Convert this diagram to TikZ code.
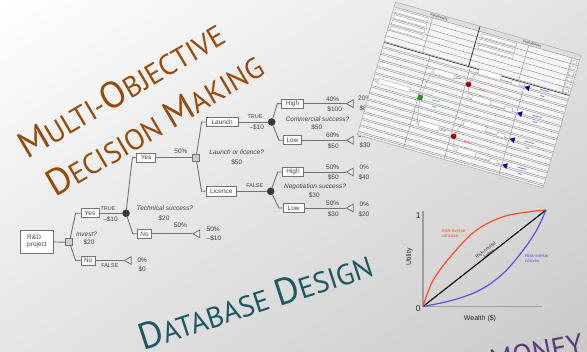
\documentclass[tikz,border=0pt]{standalone}
\usepackage{fontspec}
\setmainfont{Liberation Sans}
\newfontfamily\titlefont{PT Sans}
\usetikzlibrary{shapes.geometric,shadings}
\definecolor{treegray}{RGB}{115,115,115}
\definecolor{treetext}{RGB}{70,70,70}
\definecolor{titlebrown}{RGB}{153,74,8}
\definecolor{titleteal}{RGB}{28,88,98}
\definecolor{titlepurple}{RGB}{92,58,122}
\definecolor{riskred}{RGB}{255,75,40}
\definecolor{riskblue}{RGB}{85,85,225}
\definecolor{tabgreen}{RGB}{30,150,30}
\definecolor{tabred}{RGB}{150,10,10}
\definecolor{tabblue}{RGB}{10,10,140}
\newcommand\tbigcap[1]{{\fontsize{37}{37}\selectfont #1}}
\newcommand\tsmlcap[1]{{\fontsize{29}{29}\selectfont #1}}
\tikzset{
  tline/.style={draw=treegray, line width=0.9pt},
  tbox/.style={draw=treegray, line width=0.8pt, fill=white, text=treetext,
    font=\fontsize{6.5}{7}\selectfont, inner sep=0pt, minimum height=9pt},
  dnode/.style={rectangle, draw=treegray, fill=gray!40, minimum size=7pt, inner sep=0pt, line width=0.8pt},
  cnode/.style={circle, fill=gray!45!black, draw=gray!40!black, minimum size=7pt, inner sep=0pt},
  enode/.style={regular polygon, regular polygon sides=3, shape border rotate=90,
    draw=treegray, fill=gray!15, minimum size=9pt, inner sep=0pt, line width=0.8pt},
  tlab/.style={text=treetext, font=\fontsize{6.5}{7}\selectfont, inner sep=0pt},
  tlabi/.style={text=treetext, font=\fontsize{6.5}{7}\selectfont\itshape, inner sep=0pt},
  tlabs/.style={text=treetext, font=\fontsize{5.5}{6}\selectfont, inner sep=0pt},
  titlenode/.style={font=\titlefont, inner sep=0pt, anchor=base west},
  tabline/.style={draw=gray!75, line width=0.5pt},
  tabbox/.style={draw=gray!65, fill=white, line width=0.45pt},
  axisgray/.style={draw=gray!75, line width=1.8pt},
  chartlab/.style={font=\fontsize{7}{8}\selectfont, text=gray!30!black, inner sep=0pt},
  risklab/.style={font=\fontsize{4.5}{5}\selectfont, inner sep=0pt, align=left, anchor=north west}
}
\begin{document}
\begin{tikzpicture}[x=1pt, y=-1pt]
\useasboundingbox (0,0) rectangle (587,352);
\clip (0,0) rectangle (587,352);
\shade[upper left=white, upper right=gray!22, lower left=gray!20, lower right=gray!42] (0,0) rectangle (587,352);

% ---------------- decision tree ----------------
\node[tbox, minimum width=32.6pt, minimum height=23pt, align=left] (rd) at (37,241.5) {R\&D\\project};
\node[dnode] (d1) at (69.3,242.3) {};
\node[tbox, minimum width=18pt] (yes1) at (90,213.3) {Yes};
\node[tbox, minimum width=14pt] (no1) at (88,260.5) {No};
\node[cnode] (c1) at (126,213.3) {};
\node[tbox, minimum width=19pt] (yes2) at (146.2,157.5) {Yes};
\node[tbox, minimum width=14.5pt] (no2) at (144.5,233.8) {No};
\node[enode] (e1) at (197.5,233.8) {};
\node[enode] (e0) at (129,260.5) {};
\node[dnode] (d2) at (196,157.5) {};
\node[tbox, minimum width=32.3pt, minimum height=9.5pt] (launch) at (222.2,122) {Launch};
\node[tbox, minimum width=30.7pt, minimum height=9.5pt] (licence) at (221.3,191.3) {Licence};
\node[cnode] (c2) at (271.7,122) {};
\node[cnode] (c3) at (270.7,191.3) {};
\node[tbox, minimum width=21.6pt] (high1) at (292.5,103.7) {High};
\node[tbox, minimum width=18.4pt] (low1) at (292.5,140.3) {Low};
\node[tbox, minimum width=21.6pt] (high2) at (293,172) {High};
\node[tbox, minimum width=20.7pt] (low2) at (293.7,208) {Low};
\node[enode] (e2) at (351,103.7) {};
\node[enode] (e3) at (351,140.3) {};
\node[enode] (e4) at (351,172) {};
\node[enode] (e5) at (351,208) {};

\draw[tline] (rd) -- (d1);
\draw[tline] (d1) -- ([xshift=-5pt]yes1.west) -- (yes1.west);
\draw[tline] (d1) -- ([xshift=-5pt]no1.west) -- (no1.west);
\draw[tline] (yes1) -- (c1);
\draw[tline] (no1) -- (e0.corner 1);
\draw[tline] (c1) -- ([xshift=-4pt]yes2.west) -- (yes2.west);
\draw[tline] (c1) -- ([xshift=-4pt]no2.west) -- (no2.west);
\draw[tline] (no2) -- (e1.corner 1);
\draw[tline] (yes2) -- (d2);
\draw[tline] (d2) -- ([xshift=-4pt]launch.west) -- (launch.west);
\draw[tline] (d2) -- ([xshift=-4pt]licence.west) -- (licence.west);
\draw[tline] (launch) -- (c2);
\draw[tline] (licence) -- (c3);
\draw[tline] (c2) -- ([xshift=-4pt]high1.west) -- (high1.west);
\draw[tline] (c2) -- ([xshift=-4pt]low1.west) -- (low1.west);
\draw[tline] (c3) -- ([xshift=-4pt]high2.west) -- (high2.west);
\draw[tline] (c3) -- ([xshift=-4pt]low2.west) -- (low2.west);
\draw[tline] (high1) -- (e2.corner 1);
\draw[tline] (low1) -- (e3.corner 1);
\draw[tline] (high2) -- (e4.corner 1);
\draw[tline] (low2) -- (e5.corner 1);

\node[tlabi] (l1) at (86.5,234) {Invest?};
\node[tlab] (l2) at (89,242.5) {\$20};
\node[tlabs] (l3) at (108,208.7) {TRUE};
\node[tlab] (l4) at (110.5,219) {–\$10};
\node[tlabi] (l5) at (165,208) {Technical success?};
\node[tlab] (l6) at (164,218) {\$20};
\node[tlab] (l7) at (180.5,225.5) {50\%};
\node[tlab, anchor=west] (l8) at (206.5,229) {50\%};
\node[tlab, anchor=west] (l9) at (206.5,238) {–\$10};
\node[tlabs] (l10) at (110,266) {FALSE};
\node[tlab, anchor=west] (l11) at (137.3,260) {0\%};
\node[tlab, anchor=west] (l12) at (138.3,269) {\$0};
\node[tlab] (l13) at (181,151) {50\%};
\node[tlabi] (l14) at (236.7,151.7) {Launch or licence?};
\node[tlab] (l15) at (236.7,162.3) {\$50};
\node[tlabs] (l16) at (255,116.7) {TRUE};
\node[tlab] (l17) at (256.7,127.2) {–\$10};
\node[tlabs] (l18) at (255,186) {FALSE};
\node[tlabi] (l19) at (317.5,119.3) {Commercial success?};
\node[tlab] (l20) at (316.7,127.2) {\$50};
\node[tlabi] (l21) at (315,187.2) {Negotiation success?};
\node[tlab] (l22) at (314.2,195.5) {\$30};
\node[tlab] (l23) at (332.7,99.2) {40\%};
\node[tlab] (l24) at (334.7,109.5) {\$100};
\node[tlab] (l25) at (332.7,135.7) {60\%};
\node[tlab] (l26) at (333.3,146.2) {\$50};
\node[tlab] (l27) at (332.7,167.5) {50\%};
\node[tlab] (l28) at (333.3,177.8) {\$50};
\node[tlab] (l29) at (332.7,203.5) {50\%};
\node[tlab] (l30) at (333.3,214.5) {\$30};
\node[tlab, anchor=west] (l31) at (358,98.5) {20\%};
\node[tlab, anchor=west] (l32) at (359.3,108.5) {\$80};
\node[tlab, anchor=west] (l33) at (358,135) {30\%};
\node[tlab, anchor=west] (l34) at (359.3,145) {\$30};
\node[tlab, anchor=west] (l35) at (359.3,167.5) {0\%};
\node[tlab, anchor=west] (l36) at (358.3,177.5) {\$40};
\node[tlab, anchor=west] (l37) at (359.3,204) {0\%};
\node[tlab, anchor=west] (l38) at (358.3,214) {\$20};

% ---------------- table screenshot ----------------
\begin{scope}[shift={(395.5,2)}, rotate=-16]
  \fill[white!92!gray] (0,0) rectangle (193,138);
  \fill[gray!25] (0,0) rectangle (193,5);
  \foreach \yy in {5,11,17,23,29,35,41} \draw[tabline] (0,\yy) -- (193,\yy);
  \foreach \yy in {46,52.8,59.6,66.4,73.2,80,86.8,93.6,100.4,107.2,114,120.8,127.6,134.4}
    {\draw[tabline] (0,\yy) -- (193,\yy); \draw[tabline] (0,\yy+1.6) -- (193,\yy+1.6);}
  \draw[tabline] (40,5) -- (40,41);
  \draw[draw=gray!45!black, line width=0.8pt] (88,0) -- (88,42);
  \draw[tabline] (140,5) -- (140,42);
  \draw[tabline] (185,5) -- (185,42);
  \draw[tabline] (48,42) -- (48,138);
  \draw[tabline] (90,42) -- (90,138);
  \draw[tabline] (147,42) -- (147,138);
  \draw[draw=gray!40!black, line width=0.6pt] (0,42) -- (193,42);
  \node[transform shape, font=\fontsize{3.5}{4}\selectfont, text=gray!40!black, inner sep=0pt] (tp) at (46,2.5) {Parameters};
  \node[transform shape, font=\fontsize{3.5}{4}\selectfont, text=gray!40!black, inner sep=0pt] (tq) at (143,2.5) {Probabilities};
  \foreach \yy in {6.5,12.5,18.5,24.5} {\draw[tabbox] (2,\yy) rectangle (36,\yy+3.5);}
  \foreach \yy in {6.5,12.5,18.5} {\draw[tabbox] (92,\yy) rectangle (128,\yy+3.5);}
  \foreach \yy in {7,13,19,25,31,37} {\draw[tabbox] (186,\yy) rectangle (191,\yy+3);}
  \draw[tabline, draw=gray!60] (50,85) -- (54,57) -- (80,57);
  \draw[tabline, draw=gray!60] (50,85) -- (54,111) -- (80,111);
  \draw[tabline, draw=gray!60] (93,59) -- (97,45) -- (147,46);
  \draw[tabline, draw=gray!60] (93,59) -- (97,72) -- (147,73);
  \draw[tabline, draw=gray!60] (93,113) -- (97,99) -- (147,100);
  \draw[tabline, draw=gray!60] (93,113) -- (97,126) -- (147,127);
  \draw[tabbox] (5,78) rectangle (38,83);
  \draw[tabbox] (56,53) rectangle (77,58.5);
  \draw[tabbox] (56,107) rectangle (77,112.5);
  \draw[tabbox] (99,41) rectangle (122,46.5);
  \draw[tabbox] (100,68) rectangle (119,73.5);
  \draw[tabbox] (99,95) rectangle (122,100.5);
  \draw[tabbox] (100,122) rectangle (119,127.5);
  \foreach \yy in {43,70,97,124} {\draw[tabbox] (134,\yy) rectangle (142,\yy+4);}
  \fill[tabgreen] (47.5,82.5) rectangle (52.5,87.5);
  \draw[tabgreen!60, line width=0.8pt] (62,84) -- (70,84);
  \draw[tabgreen!60, line width=0.8pt] (64,90) -- (68,90);
  \draw[tabgreen!60, line width=0.8pt] (79,56) -- (84,56);
  \draw[tabgreen!60, line width=0.8pt] (79,110) -- (84,110);
  \fill[tabred] (93,59) circle (2.8);
  \fill[tabred] (93,113) circle (2.8);
  \foreach \yy in {59,113} {\draw[red!55, line width=0.8pt] (104,\yy+2) -- (112,\yy+2); \draw[red!55, line width=0.8pt] (106,\yy+8) -- (109,\yy+8);}
  \foreach \yy in {46,73,100,127} {
    \fill[tabblue] (147.5,\yy) -- (152.5,\yy-3) -- (152.5,\yy+3) -- cycle;
    \draw[blue!50, line width=0.8pt] (163,\yy-2) -- (172,\yy-2);
    \draw[blue!50, line width=0.8pt] (165,\yy+4) -- (169,\yy+4);}
  \draw[draw=gray!60, line width=0.6pt] (0,0) rectangle (193,138);
\end{scope}

% ---------------- utility chart ----------------
\draw[axisgray] (422.7,211) -- (422.7,306.5) -- (542,306.5);
\draw[black, line width=1.1pt] (423,306.5) -- (546,210);
\draw[riskred, line width=1.2pt] plot[smooth, tension=0.6] coordinates {(423,306.5) (433.3,280) (453.3,253.3) (476.7,230) (503.3,216.7) (530,211.7) (546,210)};
\draw[riskblue, line width=1.2pt] plot[smooth, tension=0.6] coordinates {(423,306.5) (453.3,300) (480,290) (503.3,273.3) (523.3,250) (536.7,230) (546,210)};
\node[chartlab, font=\fontsize{8.5}{9}\selectfont] (one) at (418.3,216) {1};
\node[chartlab, font=\fontsize{8.5}{9}\selectfont] (zero) at (418.3,308.3) {0};
\node[chartlab, rotate=90] (uty) at (409.3,257) {Utility};
\node[chartlab] (wth) at (480,318.5) {Wealth (\$)};
\node[risklab, text=riskred] (ra) at (441.5,229.5) {Risk-averse\\concave};
\node[risklab, text=riskblue] (rs) at (525,254.5) {Risk-seeker\\convex};
\node[font=\fontsize{4.5}{5}\selectfont, text=gray!40!black, inner sep=0pt, align=center, rotate=38] (rn) at (487,252) {Risk-neutral\\linear};

% ---------------- titles ----------------
\node[titlenode, text=titlebrown, rotate=30.4] (tt1) at (27,160) {\tbigcap{M}\tsmlcap{ULTI-}\tbigcap{O}\tsmlcap{BJECTIVE}};
\node[titlenode, text=titlebrown, rotate=30.4] (tt2) at (55,198) {\tbigcap{D}\tsmlcap{ECISION }\tbigcap{M}\tsmlcap{AKING}};
\node[titlenode, text=titleteal, rotate=18] (tt3) at (143,351) {\tbigcap{D}\tsmlcap{ATABASE }\tbigcap{D}\tsmlcap{ESIGN}};
\node[titlenode, text=titlepurple, rotate=11] (tt4) at (492,371) {\tsmlcap{MONEY}};
\end{tikzpicture}
\end{document}
